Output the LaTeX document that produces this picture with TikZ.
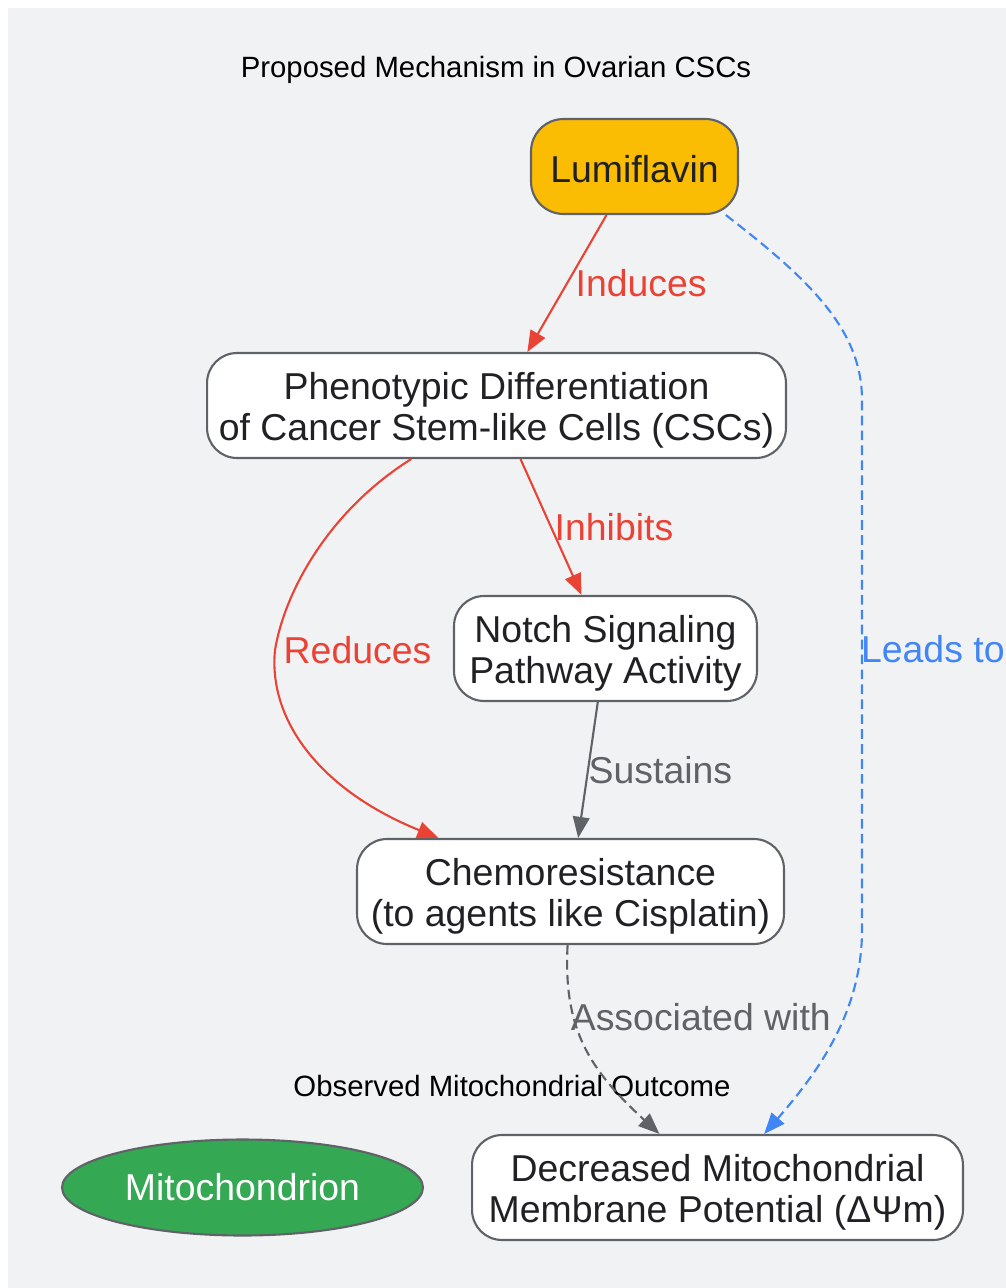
\documentclass[tikz,border=0pt]{standalone}
\usepackage{fontspec}
\setmainfont{Liberation Sans}
\usepackage{tikz}
\usetikzlibrary{arrows.meta,shapes.geometric}

\definecolor{bggray}{HTML}{F1F2F4}
\definecolor{edgegray}{HTML}{5F6368}
\definecolor{ink}{HTML}{202124}
\definecolor{gred}{HTML}{EA4335}
\definecolor{gblue}{HTML}{4285F4}
\definecolor{ggreen}{HTML}{34A853}
\definecolor{gyellow}{HTML}{FBBC04}

\newcommand{\nodestrut}[1][0.74cm]{\rule{0pt}{#1}}

\begin{document}
\begin{tikzpicture}[x=0.02cm,y=-0.02cm,
    box/.style={draw=edgegray,line width=1.2pt,fill=white,rounded corners=0.6cm,
        align=center,text=ink,font=\fontsize{21.3}{23.3}\selectfont,
        minimum height=2.1cm,inner sep=0pt},
    lbl/.style={anchor=west,inner sep=1.5pt,font=\fontsize{21.3}{23.3}\selectfont},
    arr/.style={line width=1.2pt,-{Triangle[length=12pt,width=9.5pt]}},
    dsh/.style={dash pattern=on 5.5pt off 3pt},
    ttl/.style={text=black,font=\fontsize{16.7}{20}\selectfont}]

    % Canvas
    \useasboundingbox (0,0) rectangle (1006,1288);
    \fill[bggray] (8,8) rectangle (1006,1288);

    % Titles
    \node[ttl] (title) at (496,70) {Proposed Mechanism in Ovarian CSCs};
    \node[ttl] (outtitle) at (512,1086) {Observed Mitochondrial Outcome};

    % Nodes
    \node[box,fill=gyellow,rounded corners=0.65cm,minimum width=4.14cm,minimum height=1.9cm] (lumi) at (634.5,166.5) {\nodestrut[0.64cm]Lumiflavin};
    \node[box,minimum width=11.58cm] (pheno) at (496.5,405.5) {\nodestrut Phenotypic Differentiation\\of Cancer Stem-like Cells (CSCs)};
    \node[box,minimum width=6.06cm] (notch) at (605.5,648.5) {\nodestrut Notch Signaling\\Pathway Activity};
    \node[box,minimum width=8.54cm] (chemo) at (570.5,891.5) {\nodestrut Chemoresistance\\(to agents like Cisplatin)};
    \node[box,minimum width=9.82cm] (mmp) at (717.5,1187.5) {\nodestrut Decreased Mitochondrial\\Membrane Potential (ΔΨm)};
    \node[ellipse,draw=edgegray,line width=1.2pt,fill=ggreen,text=white,
        font=\fontsize{21.3}{23.3}\selectfont,minimum width=7.22cm,minimum height=1.92cm] (mito) at (242.5,1187.5) {Mitochondrion};

    % Edges
    \draw[arr,gred] (lumi) -- (pheno) node[lbl,midway,xshift=0.1cm] {Induces};
    \draw[arr,gred] (pheno) -- (notch) node[lbl,midway] {Inhibits};
    \draw[arr,gred] (pheno) .. controls (330,510) and (285,590) .. (275,650)
        node[lbl,xshift=0.1cm] {Reduces}
        .. controls (268,720) and (320,790) .. (chemo);
    \draw[arr,edgegray] (notch) -- (chemo) node[lbl,midway,xshift=-0.06cm] {Sustains};
    \draw[arr,dsh,edgegray] (chemo) .. controls (563,1030) and (590,1070) .. (mmp)
        node[lbl,pos=0.33,inner sep=0pt,xshift=-0.08cm] {Associated with};
    \draw[arr,dsh,gblue] (lumi.-28) .. controls (810,280) and (862,330) .. (862,400)
        -- (862,930) node[lbl,pos=0.47,inner sep=0pt,xshift=-0.04cm] {Leads to}
        .. controls (862,1010) and (820,1070) .. (mmp);

\end{tikzpicture}
\end{document}
